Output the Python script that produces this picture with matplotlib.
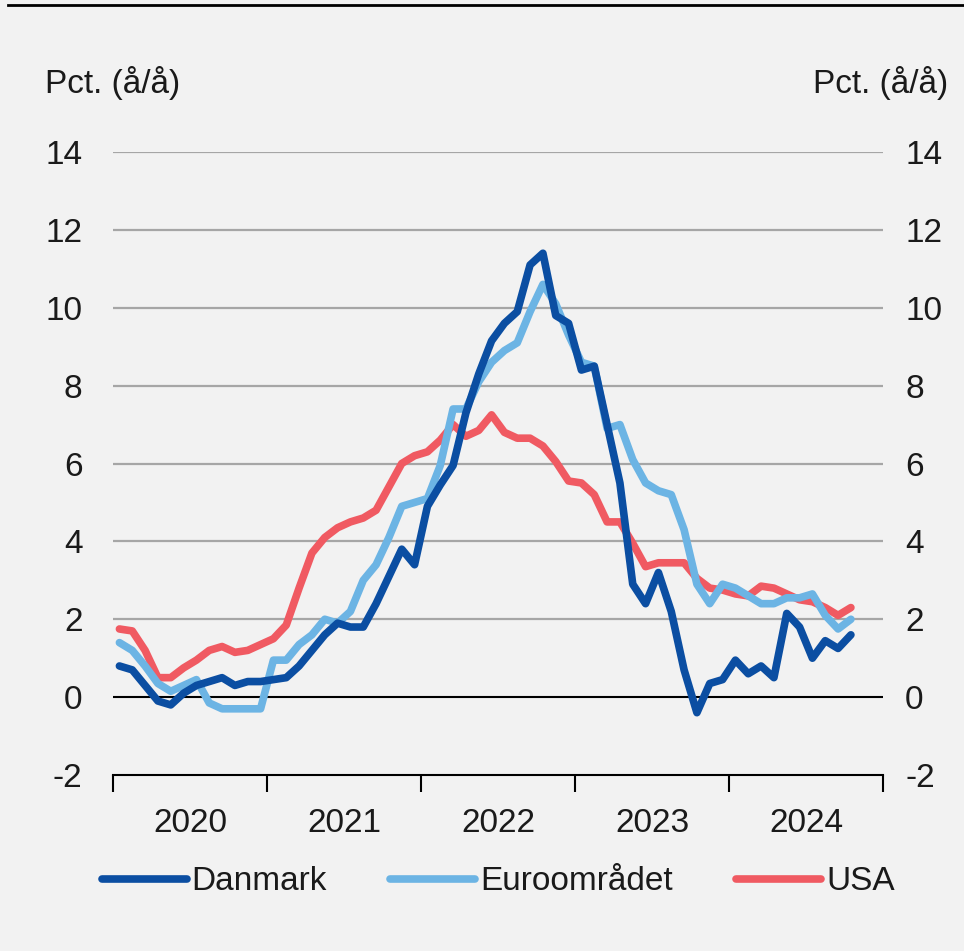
import matplotlib.pyplot as plt
from matplotlib.lines import Line2D
import numpy as np

plt.rcParams['font.family'] = ['Liberation Sans', 'DejaVu Sans']

# Monthly inflation, Jan 2020 - Oct 2024, pct. y/y
danmark = [0.8, 0.7, 0.3, -0.1, -0.2, 0.1, 0.3, 0.4, 0.5, 0.3, 0.4, 0.4,
           0.45, 0.5, 0.8, 1.2, 1.6, 1.9, 1.8, 1.8, 2.4, 3.1, 3.8, 3.4,
           4.9, 5.45, 5.95, 7.3, 8.3, 9.15, 9.6, 9.9, 11.1, 11.4, 9.8, 9.6,
           8.4, 8.5, 7.0, 5.5, 2.9, 2.4, 3.2, 2.2, 0.7, -0.4, 0.35, 0.45,
           0.95, 0.6, 0.8, 0.5, 2.15, 1.8, 1.0, 1.45, 1.25, 1.6]
euro = [1.4, 1.2, 0.8, 0.35, 0.15, 0.3, 0.45, -0.15, -0.3, -0.3, -0.3, -0.3,
        0.95, 0.95, 1.35, 1.6, 2.0, 1.9, 2.2, 3.0, 3.4, 4.1, 4.9, 5.0,
        5.1, 5.95, 7.4, 7.4, 8.1, 8.6, 8.9, 9.1, 9.9, 10.6, 10.1, 9.3,
        8.6, 8.5, 6.9, 7.0, 6.1, 5.5, 5.3, 5.2, 4.3, 2.9, 2.4, 2.9,
        2.8, 2.6, 2.4, 2.4, 2.55, 2.55, 2.65, 2.1, 1.75, 2.0]
usa = [1.75, 1.7, 1.2, 0.5, 0.5, 0.75, 0.95, 1.2, 1.3, 1.15, 1.2, 1.35,
       1.5, 1.85, 2.8, 3.7, 4.1, 4.35, 4.5, 4.6, 4.8, 5.4, 6.0, 6.2,
       6.3, 6.6, 7.0, 6.7, 6.85, 7.25, 6.8, 6.65, 6.65, 6.45, 6.05, 5.55,
       5.5, 5.2, 4.5, 4.5, 3.95, 3.35, 3.45, 3.45, 3.45, 3.05, 2.8, 2.75,
       2.65, 2.6, 2.85, 2.8, 2.65, 2.5, 2.45, 2.3, 2.1, 2.3]
years = ['2020', '2021', '2022', '2023', '2024']

bg = '#f2f2f2'
txt = '#1a1a1a'
fs = 24

fig = plt.figure(figsize=(9.64, 9.51), dpi=100, facecolor=bg)
ax = fig.add_axes([113 / 964, 1 - 775 / 951, 770 / 964, 623 / 951])
ax.set_facecolor(bg)

x = np.arange(len(danmark)) + 0.5
ax.plot(x, danmark, color='#0b4ea2', lw=5.5, label='Danmark',
        solid_capstyle='round', solid_joinstyle='round', zorder=5)
ax.plot(x, euro, color='#6cb4e4', lw=5.5, label='Euroområdet',
        solid_capstyle='round', solid_joinstyle='round', zorder=4)
ax.plot(x, usa, color='#f05a62', lw=5.5, label='USA',
        solid_capstyle='round', solid_joinstyle='round', zorder=3)

ax.set_xlim(0, 60)
ax.set_ylim(-2, 14)
yt = np.arange(-2, 15, 2)
ax.set_yticks(yt)
ax.set_yticklabels([str(v) for v in yt])
for v in yt[2:]:
    ax.axhline(v, color='#a6a6a6', lw=1.6, zorder=1)
ax.axhline(0, color='black', lw=1.5, zorder=2)

for s in ['top', 'left', 'right']:
    ax.spines[s].set_visible(False)
ax.spines['bottom'].set_color('black')
ax.spines['bottom'].set_linewidth(1.5)

ax.set_xticks(np.arange(0, 61, 12))
ax.set_xticklabels([])
ax.set_xticks(np.arange(6, 60, 12), minor=True)
ax.set_xticklabels(years, minor=True)
ax.tick_params(axis='x', which='major', direction='out', length=12, width=1.5, color='black')
ax.tick_params(axis='x', which='minor', length=0, pad=24, labelsize=fs, labelcolor=txt)
ax.tick_params(axis='y', length=0, pad=22, labelsize=fs, labelcolor=txt)

ax2 = ax.twinx()
ax2.set_ylim(-2, 14)
ax2.set_yticks(yt)
ax2.set_yticklabels([str(v) for v in yt])
ax2.tick_params(axis='y', length=0, pad=16, labelsize=fs, labelcolor=txt)
for s in ax2.spines.values():
    s.set_visible(False)

fig.text(45 / 964, 1 - 83 / 951, 'Pct. (å/å)', fontsize=fs, color=txt, ha='left', va='center')
fig.text(948 / 964, 1 - 83 / 951, 'Pct. (å/å)', fontsize=fs, color=txt, ha='right', va='center')

fig.add_artist(Line2D([8 / 964, 1], [1 - 5 / 951] * 2, color='black', lw=2))

fig.legend(loc='center', bbox_to_anchor=(0.517, 1 - 882 / 951), ncol=3, frameon=False,
           fontsize=fs, handlelength=2.55, handletextpad=0.15, columnspacing=1.9,
           labelcolor=txt, borderaxespad=0)

fig.savefig('out.png', dpi=100, facecolor=bg)
